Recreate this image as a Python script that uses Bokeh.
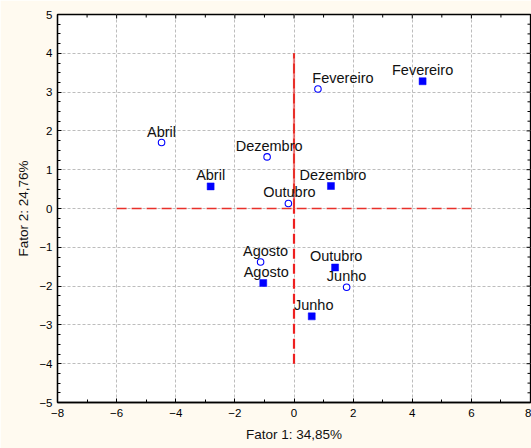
import math
from bokeh.plotting import figure
from bokeh.models import ColumnDataSource, Range1d, LinearAxis, FixedTicker
from bokeh.core.properties import value
from bokeh.embed import file_html
from bokeh.resources import INLINE

# ---- data ----
months = ["Abril", "Dezembro", "Fevereiro", "Outubro", "Agosto", "Junho"]
circ_x = [-4.48, -0.91, 0.81, -0.19, -1.13, 1.78]
circ_y = [1.70, 1.33, 3.08, 0.13, -1.38, -2.03]
sq_x = [-2.82, 1.25, 4.35, 1.39, -1.04, 0.60]
sq_y = [0.57, 0.58, 3.28, -1.52, -1.92, -2.78]
# label nudges (pixels)
circ_dx = [0, 2, 25, 1, 5, 0]
sq_dx = [0, 2, 0, 1, 3, 2]

x_ticks = [-8, -6, -4, -2, 0, 2, 4, 6, 8]
y_ticks = [-5, -4, -3, -2, -1, 0, 1, 2, 3, 4, 5]
x_label = "Fator 1: 34,85%"
y_label = "Fator 2: 24,76%"

# reference (origin) lines
h_line_x = [-6, 6]
h_line_y = [0, 0]
v_up_y = [0, 4]
v_down_y = [-4, 0]
v_line_x = [0, 0]

FONT = "Liberation Sans"
BG = "#FFFAF0"

XMIN, XMAX = x_ticks[0], x_ticks[-1]
YMIN, YMAX = y_ticks[0], y_ticks[-1]

p = figure(width=531, height=448, output_backend="svg", toolbar_location=None,
           x_range=Range1d(XMIN, XMAX), y_range=Range1d(YMIN, YMAX),
           x_axis_location=None, y_axis_location=None,
           min_border_left=57, min_border_right=1, min_border_top=14,
           min_border_bottom=46)
p.border_fill_color = BG
p.background_fill_color = "white"
p.outline_line_color = "black"
p.outline_line_width = 1.3

xminor = [v for v in range(XMIN, XMAX + 1) if v % 2 != 0]
yminor = [v / 4 for v in range(YMIN * 4, YMAX * 4 + 1) if v % 4 != 0]


def style_axis(ax):
    ax.major_tick_in = 4
    ax.major_tick_out = 0
    ax.minor_tick_in = 3
    ax.minor_tick_out = 0
    ax.axis_line_color = "black"
    ax.axis_line_width = 1.3
    ax.major_tick_line_color = "black"
    ax.minor_tick_line_color = "black"
    ax.major_label_text_font = FONT
    ax.major_label_text_font_size = "11.5px"
    ax.major_label_text_color = "black"
    ax.axis_label_text_font = FONT
    ax.axis_label_text_font_size = "13.5px"
    ax.axis_label_text_font_style = "normal"
    ax.axis_label_text_color = "#111111"


bottom = LinearAxis(axis_label=x_label)
style_axis(bottom)
bottom.ticker = FixedTicker(ticks=x_ticks, minor_ticks=xminor)
bottom.major_label_standoff = 6
bottom.axis_label_standoff = 7
p.add_layout(bottom, "below")

left = LinearAxis(axis_label=y_label)
style_axis(left)
left.ticker = FixedTicker(ticks=y_ticks, minor_ticks=yminor)
left.major_label_standoff = 5
left.axis_label_standoff = 5
p.add_layout(left, "left")

for g in (p.xgrid, p.ygrid):
    g.grid_line_color = "#bdbdbd"
    g.grid_line_dash = "3 2"
    g.grid_line_width = 1
p.xgrid.ticker = FixedTicker(ticks=x_ticks)
p.ygrid.ticker = FixedTicker(ticks=y_ticks)

# inward tick marks on the top and right frame edges (from the tick lists)
p.ray(x=x_ticks, y=[YMAX] * len(x_ticks), length=4, length_units="screen",
      angle=-math.pi / 2, line_color="black", line_width=1)
p.ray(x=xminor, y=[YMAX] * len(xminor), length=3, length_units="screen",
      angle=-math.pi / 2, line_color="black", line_width=1)
p.ray(x=[XMAX] * len(y_ticks), y=y_ticks, length=4, length_units="screen",
      angle=math.pi, line_color="black", line_width=1)
p.ray(x=[XMAX] * len(yminor), y=yminor, length=3, length_units="screen",
      angle=math.pi, line_color="black", line_width=1)

# red origin lines
p.line(h_line_x, h_line_y, line_color="#e8302a", line_width=1.6, line_dash="10 5")
p.line(v_line_x, v_up_y, line_color="#ee2020", line_width=2.2, line_alpha=0.55)
p.line(v_line_x, v_up_y, line_color="#e8302a", line_width=2, line_dash="10 5")
p.line(v_line_x, v_down_y, line_color="#ee2020", line_width=2.2, line_dash="10 5")

csrc = ColumnDataSource(dict(x=circ_x, y=circ_y, t=months, dx=circ_dx))
ssrc = ColumnDataSource(dict(x=sq_x, y=sq_y, t=months, dx=sq_dx))

p.scatter("x", "y", source=csrc, marker="circle", size=6.5, fill_color="white",
          line_color="#0000ff", line_width=1.1)
p.scatter("x", "y", source=ssrc, marker="square", size=7, fill_color="#0000ff",
          line_color="#0000ff", line_width=0.5)

for src in (csrc, ssrc):
    p.text("x", "y", text="t", source=src, x_offset="dx", y_offset=-11,
           text_align="center", text_baseline="alphabetic",
           text_font=value(FONT), text_font_size="14.5px", text_color="#111111")

open("out.html", "w").write(file_html(p, INLINE))
